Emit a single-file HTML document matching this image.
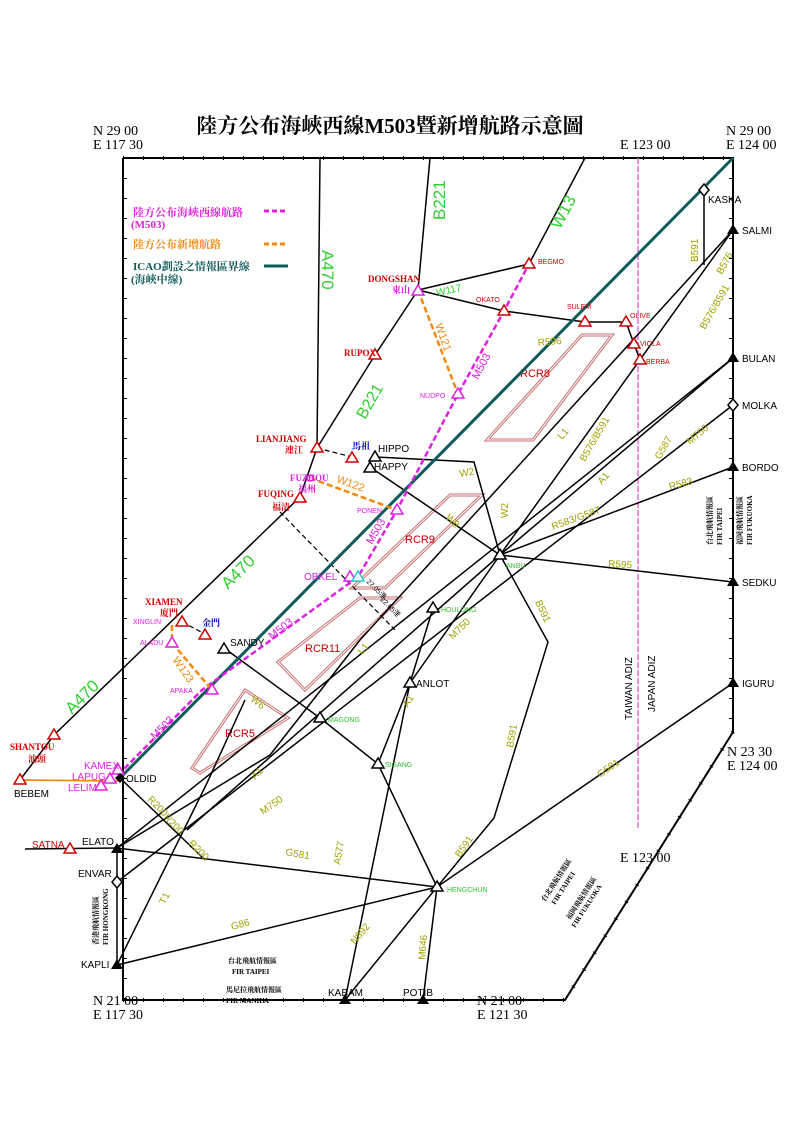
<!DOCTYPE html>
<html><head><meta charset="utf-8"><style>
html,body{margin:0;padding:0;background:#fff;}
svg{display:block;}
.s{font-family:"Liberation Serif","Noto Serif CJK SC",serif;}
.a{font-family:"Liberation Sans","Noto Sans CJK TC",sans-serif;}
</style></head><body>
<svg width="800" height="1131" viewBox="0 0 800 1131" xmlns="http://www.w3.org/2000/svg">
<rect width="800" height="1131" fill="#fff"/>
<!-- title -->
<text x="390" y="133" text-anchor="middle" class="s" font-size="21" font-weight="bold" fill="#000">陸方公布海峽西線M503暨新增航路示意圖</text>
<g class="s" font-size="14" fill="#000">
<text x="93" y="135">N  29 00</text><text x="93" y="149">E 117 30</text>
<text x="620" y="149">E 123 00</text>
<text x="726" y="135">N  29 00</text><text x="726" y="149">E 124 00</text>
<text x="727" y="756">N  23 30</text><text x="727" y="770">E 124 00</text>
<text x="620" y="862">E 123 00</text>
<text x="93" y="1005">N  21 00</text><text x="93" y="1019">E 117 30</text>
<text x="477" y="1005">N  21 00</text><text x="477" y="1019">E 121 30</text>
</g>
<!-- frame -->
<g stroke="#000" stroke-width="2" fill="none">
<polyline points="123,158 733,158 733,732 565,1000 123,1000 123,158"/>
</g>
<g stroke="#000" stroke-width="4" stroke-dasharray="1,19" fill="none">
<line x1="123" y1="158" x2="733" y2="158"/><line x1="125" y1="158" x2="125" y2="1000"/>
<line x1="123" y1="1000" x2="565" y2="1000"/><line x1="731" y1="158" x2="731" y2="732"/>
<line x1="733" y1="732" x2="565" y2="1000"/>
</g>
<!-- ADIZ -->
<line x1="638" y1="158" x2="638" y2="830" stroke="#e070e0" stroke-width="1.5" stroke-dasharray="6,2"/>
<text transform="translate(632,720) rotate(-90)" class="a" font-size="10">TAIWAN  ADIZ</text>
<text transform="translate(655,712) rotate(-90)" class="a" font-size="10">JAPAN  ADIZ</text>
<!-- RCR areas -->
<g stroke="#c87070" stroke-width="3" fill="none">
<polygon points="487,440 533,440 612,335 582,335"/>
<polygon points="352,588 385,588 482,495 450,495"/>
<polygon points="278,662 305,690 400,598 360,598"/>
<polygon points="245,690 288,718 200,773 192,768"/>
</g>
<g stroke="#fff" stroke-width="1" fill="none">
<polygon points="487,440 533,440 612,335 582,335"/>
<polygon points="352,588 385,588 482,495 450,495"/>
<polygon points="278,662 305,690 400,598 360,598"/>
<polygon points="245,690 288,718 200,773 192,768"/>
</g>
<g class="a" font-size="11" fill="#c00">
<text x="520" y="377">RCR8</text><text x="405" y="543">RCR9</text><text x="305" y="652">RCR11</text><text x="225" y="737">RCR5</text>
</g>
<!-- black routes -->
<g stroke="#000" stroke-width="1.5" fill="none">
<polyline points="320,158 317,448 300,497 54,735 20,780"/>
<polyline points="430,158 418,290 375,355 317,448"/>
<polyline points="585,158 529,264"/>
<polyline points="418,290 529,264"/>
<polyline points="418,290 504,311 585,322 626,322 634,344 640,360"/>
<line x1="704" y1="190" x2="704" y2="265"/>
<line x1="733" y1="230" x2="500" y2="555"/>
<line x1="733" y1="230" x2="360" y2="640"/>
<polyline points="360,640 270,755 117,848"/>
<line x1="733" y1="358" x2="117" y2="848"/>
<line x1="733" y1="358" x2="500" y2="555"/>
<line x1="733" y1="405" x2="117" y2="882"/>
<line x1="733" y1="467" x2="500" y2="555"/>
<line x1="733" y1="582" x2="500" y2="555"/>
<polyline points="733,683 437,887 117,848"/>
<line x1="117" y1="965" x2="437" y2="887"/>
<polyline points="500,555 548,642 494,818 437,887"/>
<polyline points="375,457 474,462 500,555"/>
<line x1="370" y1="467" x2="500" y2="555"/>
<polyline points="224,648 320,718 378,764 437,887"/>
<line x1="345" y1="1000" x2="410" y2="683"/>
<line x1="345" y1="1000" x2="437" y2="887"/>
<line x1="423" y1="1000" x2="437" y2="887"/>
<polyline points="378,764 410,683 433,608"/>
<line x1="410" y1="683" x2="500" y2="555"/>
<line x1="120" y1="778" x2="205" y2="860"/>
<polyline points="117,965 207,783 245,700"/>
<line x1="500" y1="555" x2="187" y2="830"/>
<line x1="117" y1="965" x2="117" y2="848"/>
<line x1="25" y1="849" x2="117" y2="848"/>
</g>
<g stroke="#000" stroke-width="1.2" stroke-dasharray="5,3" fill="none">
<line x1="317" y1="448" x2="352" y2="457"/>
<line x1="182" y1="622" x2="205" y2="634"/>
<line x1="280" y1="512" x2="395" y2="630"/>
</g>
<text transform="translate(366,582) rotate(45)" class="a" font-size="7">27.05浬</text>
<text transform="translate(380,600) rotate(45)" class="a" font-size="7">22.65浬</text>
<!-- teal FIR line -->
<line x1="120" y1="778" x2="733" y2="158" stroke="#0f5a5a" stroke-width="3"/>
<!-- M503 -->
<polyline points="118,775 202,690 358,577 397,510 458,394 504,311 529,264" stroke="#e020e0" stroke-width="2.5" stroke-dasharray="6,3" fill="none"/>
<!-- orange new routes -->
<g stroke="#f08a10" stroke-width="2.5" stroke-dasharray="6,3" fill="none">
<line x1="418" y1="290" x2="458" y2="394"/>
<line x1="310" y1="478" x2="397" y2="510"/>
<polyline points="172,625 172,643 212,690"/>
</g>
<line x1="20" y1="780" x2="118" y2="781" stroke="#f08a10" stroke-width="1.8"/>
<!-- legend -->
<g class="s" font-size="11" font-weight="bold">
<text x="133" y="216" fill="#e020e0">陸方公布海峽西線航路</text><text x="131" y="228" fill="#e020e0">(M503)</text>
<text x="133" y="248" fill="#f08a10">陸方公布新增航路</text>
<text x="133" y="270" fill="#0f5a5a">ICAO劃設之情報區界線</text><text x="131" y="283" fill="#0f5a5a">(海峽中線)</text>
</g>
<line x1="264" y1="211" x2="288" y2="211" stroke="#e020e0" stroke-width="3" stroke-dasharray="5,3"/>
<line x1="264" y1="244" x2="288" y2="244" stroke="#f08a10" stroke-width="3" stroke-dasharray="5,3"/>
<line x1="264" y1="266" x2="288" y2="266" stroke="#0f5a5a" stroke-width="3"/>
<!-- green route labels -->
<g class="a" fill="#30d030">
<text transform="translate(445,220) rotate(-90)" font-size="17">B221</text>
<text transform="translate(322,250) rotate(90)" font-size="17">A470</text>
<text transform="translate(560,230) rotate(-62)" font-size="17">W13</text>
<text transform="translate(437,296) rotate(-12)" font-size="10">W117</text>
<text transform="translate(365,420) rotate(-60)" font-size="16">B221</text>
<text transform="translate(228,590) rotate(-45)" font-size="17">A470</text>
<text transform="translate(72,715) rotate(-45)" font-size="17">A470</text>
</g>
<!-- magenta/orange labels -->
<g class="a" font-size="11">
<text transform="translate(478,380) rotate(-62)" fill="#e020e0">M503</text>
<text transform="translate(372,545) rotate(-60)" fill="#e020e0">M503</text>
<text transform="translate(272,640) rotate(-38)" fill="#e020e0">M503</text>
<text transform="translate(155,740) rotate(-45)" fill="#e020e0">M503</text>
<text transform="translate(435,325) rotate(70)" fill="#f08a10">W121</text>
<text transform="translate(336,482) rotate(20)" fill="#f08a10">W122</text>
<text transform="translate(172,660) rotate(55)" fill="#f08a10">W123</text>
</g>
<!-- olive labels -->
<g class="a" font-size="10" fill="#a0a000">
<text transform="translate(538,346) rotate(-5)">R596</text>
<text transform="translate(698,262) rotate(-90)">B591</text>
<text transform="translate(722,275) rotate(-62)">B576</text>
<text transform="translate(705,330) rotate(-60)">B576/B591</text>
<text transform="translate(585,462) rotate(-60)">B576/B591</text>
<text transform="translate(562,440) rotate(-50)">L1</text>
<text transform="translate(362,655) rotate(-50)">L1</text>
<text transform="translate(660,460) rotate(-60)">G587</text>
<text transform="translate(690,445) rotate(-40)">M750</text>
<text transform="translate(670,490) rotate(-15)">R583</text>
<text transform="translate(553,530) rotate(-20)">R583/G587</text>
<text transform="translate(602,485) rotate(-50)">A1</text>
<text transform="translate(608,567) rotate(3)">R595</text>
<text transform="translate(460,477) rotate(-10)">W2</text>
<text transform="translate(508,518) rotate(-90)">W2</text>
<text transform="translate(445,518) rotate(45)">W8</text>
<text transform="translate(535,602) rotate(65)">B591</text>
<text transform="translate(513,748) rotate(-80)">B591</text>
<text transform="translate(453,640) rotate(-45)">M750</text>
<text transform="translate(408,708) rotate(-60)">A1</text>
<text transform="translate(250,700) rotate(40)">W6</text>
<text transform="translate(255,780) rotate(-45)">A1</text>
<text transform="translate(263,815) rotate(-35)">M750</text>
<text transform="translate(600,778) rotate(-35)">G581</text>
<text transform="translate(285,855) rotate(10)">G581</text>
<text transform="translate(232,930) rotate(-15)">G86</text>
<text transform="translate(147,800) rotate(45)">R200</text>
<text transform="translate(163,818) rotate(45)">R200</text>
<text transform="translate(188,844) rotate(45)">R200</text>
<text transform="translate(165,905) rotate(-65)">T1</text>
<text transform="translate(340,865) rotate(-80)">A577</text>
<text transform="translate(355,945) rotate(-50)">N892</text>
<text transform="translate(425,960) rotate(-85)">M646</text>
<text transform="translate(460,858) rotate(-55)">B591</text>
</g>
<!-- waypoint triangles red -->
<g stroke="#c00" stroke-width="1.5" fill="#fff">
<polygon points="529,258 523,268 535,268"/><polygon points="504,305 498,315 510,315"/>
<polygon points="585,316 579,326 591,326"/><polygon points="626,316 620,326 632,326"/>
<polygon points="634,338 628,348 640,348"/><polygon points="640,354 634,364 646,364"/>
<polygon points="375,349 369,359 381,359"/><polygon points="317,442 311,452 323,452"/>
<polygon points="352,452 346,462 358,462"/><polygon points="300,492 294,502 306,502"/>
<polygon points="182,616 176,626 188,626"/><polygon points="205,629 199,639 211,639"/>
<polygon points="54,729 48,739 60,739"/><polygon points="20,774 14,784 26,784"/>
<polygon points="70,843 64,853 76,853"/>
</g>
<g stroke="#e020e0" stroke-width="1.5" fill="#fff">
<polygon points="418,285 412,295 424,295"/><polygon points="458,388 452,398 464,398"/>
<polygon points="397,504 391,514 403,514"/><polygon points="350,571 344,581 356,581"/>
<polygon points="172,637 166,647 178,647"/><polygon points="212,684 206,694 218,694"/>
<polygon points="118,764 112,774 124,774"/><polygon points="110,773 104,783 116,783"/>
<polygon points="101,780 95,790 107,790"/>
<circle cx="310" cy="478" r="3"/>
</g>
<polygon points="358,571 352,581 364,581" stroke="#20d0d0" stroke-width="1.5" fill="#fff"/>
<g stroke="#000" stroke-width="1.5" fill="#fff">
<polygon points="375,451 369,461 381,461"/><polygon points="370,462 364,472 376,472"/>
<polygon points="224,643 218,653 230,653"/><polygon points="500,549 494,559 506,559"/>
<polygon points="433,602 427,612 439,612"/><polygon points="410,677 404,687 416,687"/>
<polygon points="320,712 314,722 326,722"/><polygon points="378,758 372,768 384,768"/>
<polygon points="437,881 431,891 443,891"/>
<polygon points="704,184 709,190 704,196 699,190"/><polygon points="733,399 738,405 733,411 728,405"/>
<polygon points="117,876 122,882 117,888 112,882"/>
</g>
<g fill="#000">
<polygon points="120,773 125,778 120,783 115,778"/>
<polygon points="733,224 727,234 739,234"/><polygon points="733,352 727,362 739,362"/>
<polygon points="733,461 727,471 739,471"/><polygon points="733,576 727,586 739,586"/>
<polygon points="733,677 727,687 739,687"/><polygon points="117,843 111,853 123,853"/>
<polygon points="117,959 111,969 123,969"/><polygon points="345,994 339,1004 351,1004"/>
<polygon points="423,994 417,1004 429,1004"/>
</g>
<!-- waypoint labels -->
<g class="a" font-size="10" fill="#000">
<text x="708" y="203">KASKA</text><text x="742" y="234">SALMI</text><text x="742" y="362">BULAN</text>
<text x="742" y="409">MOLKA</text><text x="742" y="471">BORDO</text><text x="742" y="586">SEDKU</text>
<text x="742" y="687">IGURU</text><text x="126" y="782">OLDID</text><text x="82" y="845">ELATO</text>
<text x="78" y="877">ENVAR</text><text x="81" y="968">KAPLI</text><text x="328" y="996" font-size="10">KABAM</text>
<text x="403" y="996">POTIB</text><text x="14" y="797">BEBEM</text><text x="378" y="452">HIPPO</text>
<text x="374" y="470">HAPPY</text><text x="230" y="646">SANDY</text><text x="416" y="687">ANLOT</text>
</g>
<g class="a" font-size="7" fill="#30c030">
<text x="506" y="568">ANBU</text><text x="441" y="612">HOULONG</text><text x="328" y="722">MAGONG</text>
<text x="385" y="767">SIGANG</text><text x="447" y="892">HENGCHUN</text>
</g>
<g class="a" font-size="7" fill="#c00">
<text x="538" y="264">BEGMO</text><text x="476" y="302">OKATO</text><text x="567" y="309">SULEM</text>
<text x="630" y="318">OLIVE</text><text x="640" y="346">VIOLA</text><text x="646" y="364">BERBA</text>
</g>
<g class="a" font-size="10" fill="#c00"><text x="32" y="848">SATNA</text></g>
<g class="a" font-size="7" fill="#e020e0">
<text x="420" y="398">NUDPO</text><text x="357" y="513">PONEN</text><text x="133" y="624">XINGLIN</text>
<text x="140" y="645">ALADU</text><text x="170" y="693">APAKA</text>
</g>
<g class="a" font-size="10" fill="#e020e0">
<text x="304" y="580">OBKEL</text><text x="84" y="769">KAMEX</text><text x="72" y="780">LAPUG</text><text x="68" y="791">LELIM</text>
</g>
<g class="s" font-size="9" font-weight="bold" fill="#c00">
<text x="368" y="282">DONGSHAN</text><text x="392" y="293" fill="#e020e0">東山</text>
<text x="344" y="356">RUPOX</text><text x="256" y="442">LIANJIANG</text><text x="285" y="453">連江</text>
<text x="290" y="481" fill="#e020e0">FUZHOU</text><text x="298" y="492" fill="#e020e0">福州</text>
<text x="258" y="497">FUQING</text><text x="272" y="510">福清</text>
<text x="145" y="605">XIAMEN</text><text x="160" y="616">廈門</text>
<text x="10" y="750">SHANTOU</text><text x="28" y="762">汕頭</text>
<text x="352" y="449" fill="#00c">馬祖</text><text x="202" y="626" fill="#00c">金門</text>
</g>
<!-- FIR labels -->
<g class="s" font-size="7" font-weight="bold" fill="#000">
<text transform="translate(712,545) rotate(-90)">台北飛航情報區</text>
<text transform="translate(722,545) rotate(-90)">FIR   TAIPEI</text>
<text transform="translate(742,545) rotate(-90)">福岡飛航情報區</text>
<text transform="translate(752,545) rotate(-90)">FIR   FUKUOKA</text>
<text transform="translate(98,945) rotate(-90)">香港飛航情報區</text>
<text transform="translate(108,945) rotate(-90)">FIR   HONGKONG</text>
<text x="228" y="963">台北飛航情報區</text><text x="232" y="974">FIR    TAIPEI</text>
<text x="226" y="992">馬尼拉飛航情報區</text><text x="226" y="1003">FIR      MANILA</text>
<text transform="translate(545,902) rotate(-57)">台北飛航情報區</text>
<text transform="translate(555,905) rotate(-57)">FIR  TAIPEI</text>
<text transform="translate(570,920) rotate(-57)">福岡飛航情報區</text>
<text transform="translate(575,928) rotate(-57)">FIR  FUKUOKA</text>
</g>
</svg>
</body></html>
